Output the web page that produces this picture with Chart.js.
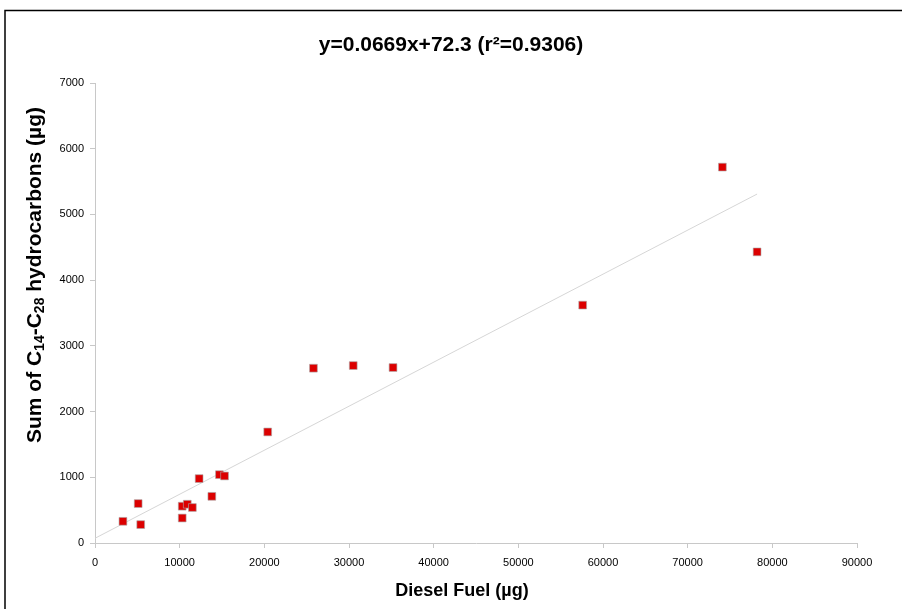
<!DOCTYPE html>
<html>
<head>
<meta charset="utf-8">
<title>Diesel fuel vs C14-C28 hydrocarbons</title>
<script src="https://cdn.jsdelivr.net/npm/chart.js@4.4.1/dist/chart.umd.min.js"></script>
<style>
  html, body { margin: 0; padding: 0; background: #fff; }
  #myChart { display: block; }
</style>
</head>
<body>
<canvas id="myChart" width="902" height="609"></canvas>
<script>
// values
const dieselFuel = [3300, 5100, 5400, 10300, 10300, 10900, 11500, 12300, 13800, 14700, 15300, 20400, 25800, 30500, 35200, 57600, 74100, 78200];
const hydrocarbons = [330, 600, 280, 560, 380, 590, 540, 980, 710, 1040, 1020, 1690, 2660, 2700, 2670, 3620, 5720, 4430];

// fitted line end points as drawn
const trendX = [0, 78200];
const trendY = [72, 5310];

const titleText = 'y=0.0669x+72.3 (r\u00b2=0.9306)';
const xTitle = 'Diesel Fuel (\u00b5g)';
// y title pieces: [text, subscript?]
const yTitleParts = [['Sum of C', false], ['14', true], ['-C', false], ['28', true], [' hydrocarbons (\u00b5g)', false]];

const FONT = '"Liberation Sans", Arial, sans-serif';

const points = dieselFuel.map((x, i) => ({ x: x, y: hydrocarbons[i] }));
const trend = trendX.map((x, i) => ({ x: x, y: trendY[i] }));

// frame, title and axis titles
const extras = {
  id: 'extras',
  beforeDraw(chart) {
    const c = chart.ctx;
    c.save();
    c.fillStyle = '#fff';
    c.fillRect(0, 0, chart.width, chart.height);
    c.strokeStyle = '#000';
    c.lineWidth = 1.5;
    c.strokeRect(5, 10.5, 1000, 1000);
    c.restore();
  },
  afterDraw(chart) {
    const c = chart.ctx;
    c.save();
    c.fillStyle = '#000';
    c.textBaseline = 'middle';
    c.textAlign = 'center';
    c.font = 'bold 21px ' + FONT;
    c.fillText(titleText, 451, 45);

    c.font = 'bold 18px ' + FONT;
    c.fillText(xTitle, 462, 591);

    // rotated y title with subscripts
    c.translate(35, 275);
    c.rotate(-Math.PI / 2);
    const big = 'bold 21px ' + FONT;
    const small = 'bold 14px ' + FONT;
    let total = 0;
    yTitleParts.forEach(p => { c.font = p[1] ? small : big; total += c.measureText(p[0]).width; });
    let x = -total / 2;
    c.textAlign = 'left';
    yTitleParts.forEach(p => {
      c.font = p[1] ? small : big;
      c.fillText(p[0], x, p[1] ? 5 : 0);
      x += c.measureText(p[0]).width;
    });
    c.restore();
  }
};

const axisGray = '#c8c8c8';
const tickFont = { family: FONT, size: 11 };
const plain = v => String(v);

new Chart(document.getElementById('myChart'), {
  type: 'scatter',
  data: {
    datasets: [
      {
        type: 'line',
        data: trend,
        borderColor: '#d6d6d6',
        borderWidth: 1,
        pointRadius: 0,
        order: 2
      },
      {
        data: points,
        pointStyle: 'rect',
        pointRadius: 5.5,
        backgroundColor: '#dc0000',
        borderColor: 'rgba(170,170,170,0.6)',
        borderWidth: 1,
        order: 1
      }
    ]
  },
  options: {
    responsive: false,
    animation: false,
    layout: { padding: { left: 0, right: 45, top: 83, bottom: 0 } },
    plugins: {
      legend: { display: false },
      tooltip: { enabled: false },
      title: { display: false }
    },
    scales: {
      x: {
        type: 'linear',
        min: 0,
        max: 90000,
        ticks: { stepSize: 10000, color: '#000', font: tickFont, padding: 8, maxRotation: 0, callback: plain },
        grid: { drawOnChartArea: false, drawTicks: true, tickLength: 5, color: axisGray },
        border: { color: axisGray },
        afterFit(s) { s.height = 66; }
      },
      y: {
        min: 0,
        max: 7000,
        ticks: { stepSize: 1000, color: '#000', font: tickFont, padding: 6, callback: plain },
        grid: { drawOnChartArea: false, drawTicks: true, tickLength: 5, color: axisGray },
        border: { color: axisGray },
        afterFit(s) { s.width = 95; }
      }
    }
  },
  plugins: [extras]
});
</script>
</body>
</html>
